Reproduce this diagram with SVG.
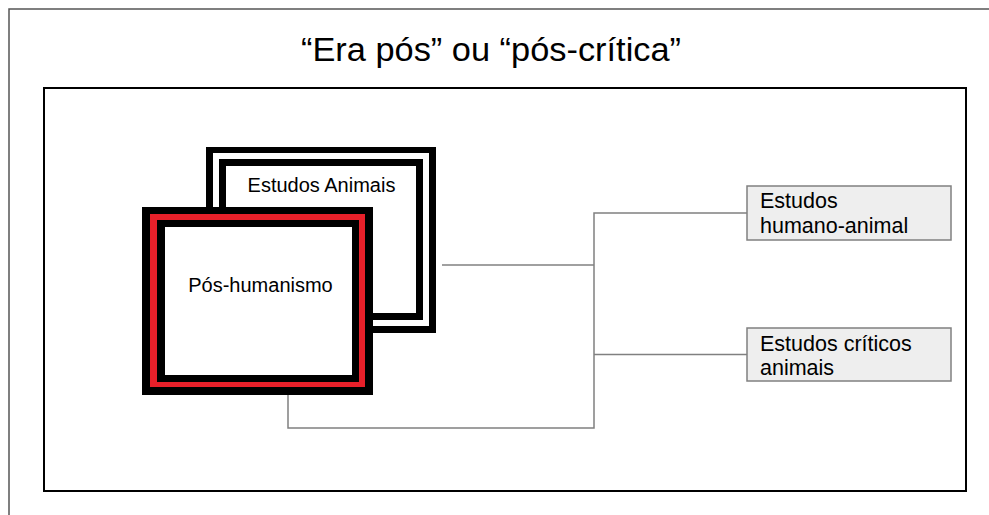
<svg xmlns="http://www.w3.org/2000/svg" width="989" height="515" viewBox="0 0 989 515">
<style>
text{font-family:"Liberation Sans",Arial,sans-serif;fill:#000}
.conn{fill:none;stroke:#808080;stroke-width:1.5}
.blk{fill:#000}
.wht{fill:#fff}
.red{fill:#e8202a}
.leaf{fill:#eeeeee;stroke:#808080;stroke-width:1.5}
.lbl{font-size:20px}
.leaftxt{font-size:21.5px}
</style>
<rect width="989" height="515" fill="#fff"/>
<path d="M9,515 V9 H989" fill="none" stroke="#555" stroke-width="1.5"/>
<text x="491" y="61" font-size="33" text-anchor="middle" textLength="380" lengthAdjust="spacingAndGlyphs">“Era pós” ou “pós-crítica”</text>
<rect x="44" y="88" width="922" height="403" fill="none" stroke="#000" stroke-width="2"/>
<g id="connectors">
<path class="conn" d="M442,265 H594"/>
<path class="conn" d="M288,395 V428 H594 V213 H747"/>
<path class="conn" d="M594,354.5 H747"/>
</g>
<g id="estudos-animais">
<rect class="blk" x="206" y="147" width="230" height="186"/>
<rect class="wht" x="213" y="153" width="216" height="173"/>
<rect class="blk" x="219" y="159" width="204" height="161"/>
<rect class="wht" x="226" y="166" width="190" height="147"/>
<text class="lbl" x="321.5" y="192" text-anchor="middle">Estudos Animais</text>
</g>
<g id="pos-humanismo">
<rect class="blk" x="142" y="207" width="231" height="188"/>
<rect class="red" x="150" y="214" width="215" height="173"/>
<rect class="blk" x="157" y="220" width="202" height="162"/>
<rect class="wht" x="165" y="227" width="187" height="148"/>
<text class="lbl" x="260.5" y="292" text-anchor="middle">Pós-humanismo</text>
</g>
<g id="estudos-humano-animal">
<rect class="leaf" x="747" y="186" width="204" height="54"/>
<text class="leaftxt" x="760" y="208">Estudos</text>
<text class="leaftxt" x="760" y="233">humano-animal</text>
</g>
<g id="estudos-criticos-animais">
<rect class="leaf" x="747" y="328" width="204" height="53"/>
<text class="leaftxt" x="760" y="351">Estudos críticos</text>
<text class="leaftxt" x="760" y="375">animais</text>
</g>
</svg>
